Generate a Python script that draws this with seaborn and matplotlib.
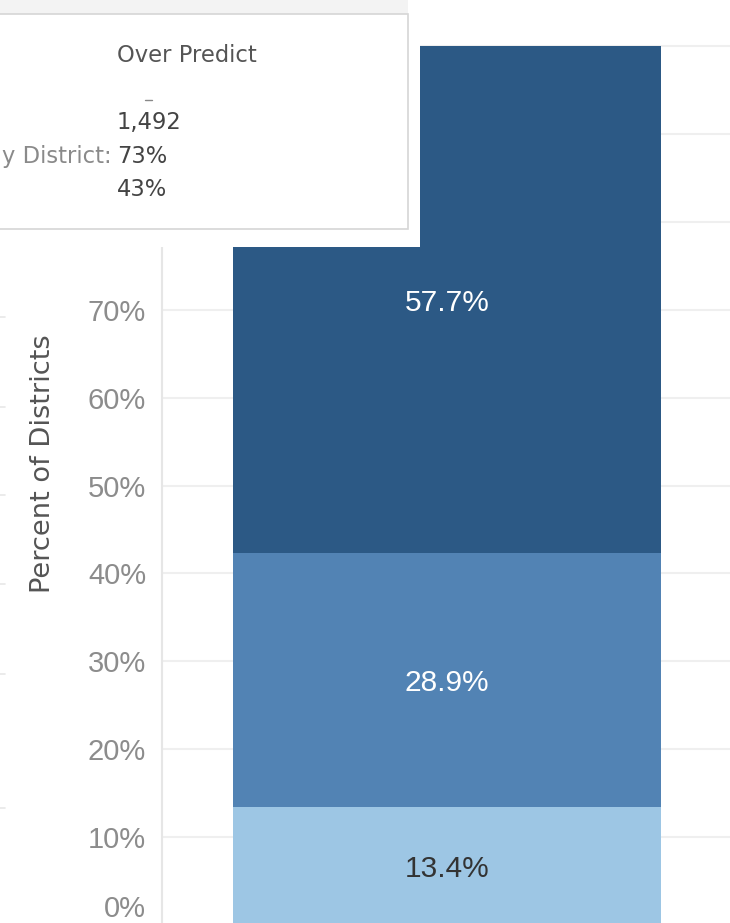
import numpy as np
import matplotlib
matplotlib.use("Agg")
from matplotlib import pyplot as plt
from matplotlib.patches import Rectangle
from matplotlib.lines import Line2D
from matplotlib.transforms import ScaledTranslation
import seaborn as sns

# data: one stacked bar, segments listed bottom to top
category = ["All Districts"]
segments = ["Segment low", "Segment mid", "Over Predict"]
percent = [13.4, 28.9, 57.7]
seg_colors = ["#9dc6e4", "#5283b4", "#2c5985"]
label_colors = ["#333333", "#ffffff", "#ffffff"]
tick_values = [0, 10, 20, 30, 40, 50, 60, 70, 80, 90, 100]
hidden_ticks = [80, 90, 100]  # labels sit under the tooltip

# tooltip contents (partly cut off in the screenshot)
tooltip_title = "Over Predict"
tooltip_keys = ["", "y District:", ""]
tooltip_values = ["1,492", "73%", "43%"]

W, H = 730, 923


def fx(px):
    return px / W


def fy(py):
    return 1 - py / H


sns.set_theme(style="white")
fig = plt.figure(figsize=(W / 100, H / 100), dpi=100)
ax = fig.add_axes([fx(162), fy(925), fx(568), 925 / H])

# overlapping bars from tallest to shortest = stacked bar
cum = np.cumsum(percent)
for top, col in zip(cum[::-1], seg_colors[::-1]):
    sns.barplot(x=category, y=[top], color=col, width=0.75, saturation=1,
                linewidth=0, ax=ax)

px_per_unit = 428 / 0.75
ax.set_xlim(-285 / px_per_unit, 283 / px_per_unit)
ax.set_ylim(0, 925 / 8.79)

# segment labels
bottoms = cum - np.array(percent)
for b, p, lc in zip(bottoms, percent, label_colors):
    ax.text(0, b + p / 2, f"{p:.1f}%", ha="center", va="center_baseline",
            color=lc, fontsize=21.5, family="Liberation Sans", zorder=5)

ax.set_yticks(tick_values)
ax.set_yticklabels(["" if t in hidden_ticks else f"{t}%" for t in tick_values])
ax.tick_params(axis="y", length=0, pad=11.5, labelsize=21, labelcolor="#8c8c8c")
for lbl in ax.get_yticklabels():
    lbl.set_fontfamily("Liberation Sans")
zero_lbl = ax.get_yticklabels()[0]
zero_lbl.set_transform(zero_lbl.get_transform()
                       + ScaledTranslation(0, 0.19, fig.dpi_scale_trans))
ax.set_xticks([])
ax.set_xlabel("")
ax.set_ylabel("")
ax.yaxis.grid(True, color="#efefef", linewidth=1.5)
ax.set_axisbelow(True)
for side in ["top", "right", "bottom"]:
    ax.spines[side].set_visible(False)
ax.spines["left"].set_color("#e6e6e6")
ax.spines["left"].set_linewidth(1.5)

fig.text(fx(43), fy(464), "Percent of Districts", rotation=90, ha="center",
         va="center", fontsize=19.6, color="#555555", family="DejaVu Sans")

# faint leftovers of the neighbouring pane on the far left
for yy in [317, 407, 495, 584, 674, 808]:
    fig.add_artist(Line2D([0, fx(5)], [fy(yy), fy(yy)], color="#e8e8e8",
                          lw=1.2, transform=fig.transFigure))

# tooltip box covering the top-left corner
fig.add_artist(Rectangle((0, fy(247)), fx(420), 247 / H, transform=fig.transFigure,
                         facecolor="white", edgecolor="none", zorder=10))
fig.add_artist(Rectangle((0, fy(14)), fx(408), 14 / H, transform=fig.transFigure,
                         facecolor="#f3f3f3", edgecolor="none", zorder=10))
fig.add_artist(Rectangle((fx(-3), fy(229)), fx(411), 215 / H, transform=fig.transFigure,
                         facecolor="white", edgecolor="#d6d6d6", lw=1.2, zorder=10))

fig.text(fx(117), fy(55), tooltip_title, ha="left", va="center", fontsize=16.3,
         color="#555555", family="DejaVu Sans", zorder=11)
fig.add_artist(Line2D([fx(145), fx(152)], [fy(100), fy(100)], color="#888888",
                      lw=1, transform=fig.transFigure, zorder=11))
for i, (k, v) in enumerate(zip(tooltip_keys, tooltip_values)):
    yy = fy(123 + i * 33.5)
    fig.text(fx(117), yy, v, ha="left", va="center", fontsize=16.3,
             color="#444444", family="DejaVu Sans", zorder=11)
    if k:
        fig.text(fx(112), yy, k, ha="right", va="center", fontsize=16.3,
                 color="#8a8a8a", family="DejaVu Sans", zorder=11)

fig.savefig("out.png", dpi=100)
